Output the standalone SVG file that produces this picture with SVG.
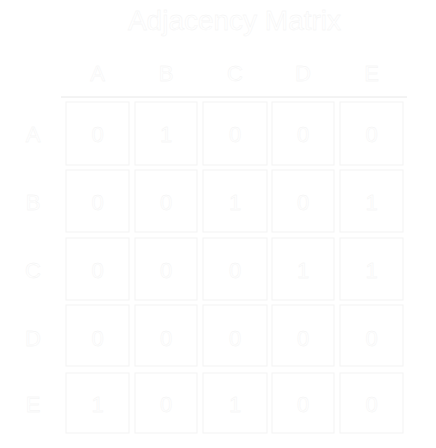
<svg xmlns="http://www.w3.org/2000/svg" width="436" height="448" viewBox="0 0 436 448">
<style>
.t{font-family:"Liberation Sans",Arial,sans-serif;fill:#ffffff;stroke:#f2f2f2;stroke-width:0.4;text-anchor:middle;dominant-baseline:central}
.title{font-size:28px}
.hd{font-size:22px}
.v{font-size:22px}
.cell{fill:#ffffff;stroke:#f3f3f3;stroke-width:1}
</style>
<rect width="436" height="448" fill="#ffffff"/>
<text class="t title" x="234.5" y="20">Adjacency Matrix</text>
<g id="headers">
<text class="t hd" x="97.5" y="73">A</text>
<text class="t hd" x="166" y="73">B</text>
<text class="t hd" x="235" y="73">C</text>
<text class="t hd" x="303" y="73">D</text>
<text class="t hd" x="371.5" y="73">E</text>
<line x1="61" y1="97" x2="407" y2="97" stroke="#e8e8e8" stroke-width="1"/>
</g>
<g id="rowlabels">
<text class="t hd" x="33" y="134">A</text>
<text class="t hd" x="33" y="202">B</text>
<text class="t hd" x="33" y="270">C</text>
<text class="t hd" x="33" y="338">D</text>
<text class="t hd" x="33" y="404">E</text>
</g>
<g id="rowA">
<rect class="cell" x="66" y="102" width="63" height="63"/><text class="t v" x="97.5" y="134">0</text>
<rect class="cell" x="135" y="102" width="62" height="63"/><text class="t v" x="166" y="134">1</text>
<rect class="cell" x="203" y="102" width="64" height="63"/><text class="t v" x="235" y="134">0</text>
<rect class="cell" x="272" y="102" width="62" height="63"/><text class="t v" x="303" y="134">0</text>
<rect class="cell" x="340" y="102" width="63" height="63"/><text class="t v" x="371.5" y="134">0</text>
</g>
<g id="rowB">
<rect class="cell" x="66" y="170" width="63" height="62"/><text class="t v" x="97.5" y="202">0</text>
<rect class="cell" x="135" y="170" width="62" height="62"/><text class="t v" x="166" y="202">0</text>
<rect class="cell" x="203" y="170" width="64" height="62"/><text class="t v" x="235" y="202">1</text>
<rect class="cell" x="272" y="170" width="62" height="62"/><text class="t v" x="303" y="202">0</text>
<rect class="cell" x="340" y="170" width="63" height="62"/><text class="t v" x="371.5" y="202">1</text>
</g>
<g id="rowC">
<rect class="cell" x="66" y="238" width="63" height="62"/><text class="t v" x="97.5" y="270">0</text>
<rect class="cell" x="135" y="238" width="62" height="62"/><text class="t v" x="166" y="270">0</text>
<rect class="cell" x="203" y="238" width="64" height="62"/><text class="t v" x="235" y="270">0</text>
<rect class="cell" x="272" y="238" width="62" height="62"/><text class="t v" x="303" y="270">1</text>
<rect class="cell" x="340" y="238" width="63" height="62"/><text class="t v" x="371.5" y="270">1</text>
</g>
<g id="rowD">
<rect class="cell" x="66" y="305" width="63" height="61"/><text class="t v" x="97.5" y="338">0</text>
<rect class="cell" x="135" y="305" width="62" height="61"/><text class="t v" x="166" y="338">0</text>
<rect class="cell" x="203" y="305" width="64" height="61"/><text class="t v" x="235" y="338">0</text>
<rect class="cell" x="272" y="305" width="62" height="61"/><text class="t v" x="303" y="338">0</text>
<rect class="cell" x="340" y="305" width="63" height="61"/><text class="t v" x="371.5" y="338">0</text>
</g>
<g id="rowE">
<rect class="cell" x="66" y="373" width="63" height="60"/><text class="t v" x="97.5" y="404">1</text>
<rect class="cell" x="135" y="373" width="62" height="60"/><text class="t v" x="166" y="404">0</text>
<rect class="cell" x="203" y="373" width="64" height="60"/><text class="t v" x="235" y="404">1</text>
<rect class="cell" x="272" y="373" width="62" height="60"/><text class="t v" x="303" y="404">0</text>
<rect class="cell" x="340" y="373" width="63" height="60"/><text class="t v" x="371.5" y="404">0</text>
</g>
<g id="connectors"></g>
</svg>
